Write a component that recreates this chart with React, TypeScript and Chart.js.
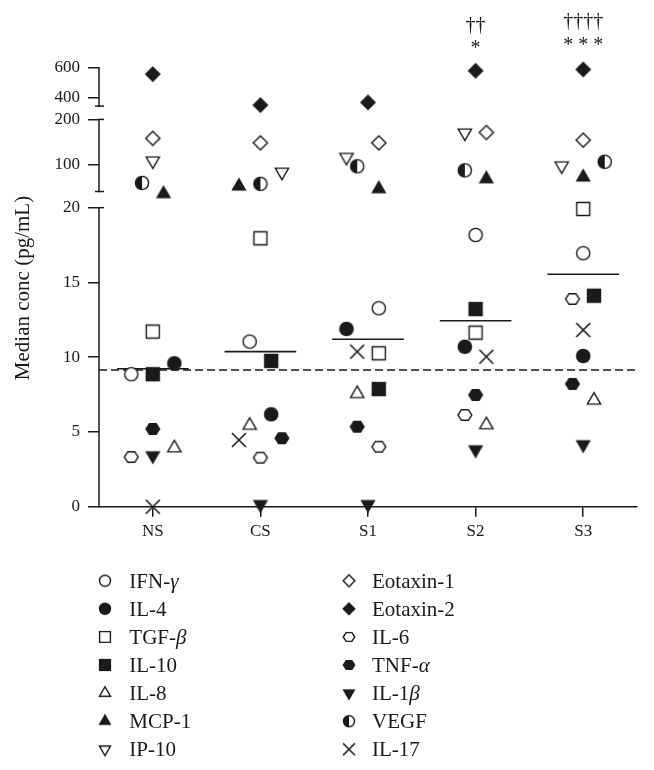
import React, { useEffect, useRef } from 'react';
import { Chart, registerables } from 'chart.js';

Chart.register(...registerables);

const FONT = '"Liberation Serif", "Times New Roman", serif';
const INK = '#1a1a1a';

// ---------- data ----------
const CATEGORIES = ['NS', 'CS', 'S1', 'S2', 'S3'];
const Y_TICK_VALUES = [0, 5, 10, 15, 20, 100, 200, 400, 600];

const IFN_GAMMA = [8.86, 11.04, 13.27, 18.17, 16.95];
const IL_4 = [9.59, 6.18, 11.89, 10.7, 10.08];
const TGF_BETA = [11.71, 17.95, 10.26, 11.64, 19.91];
const IL_10 = [8.86, 9.75, 7.87, 13.22, 14.11];
const IL_8 = [3.93, 5.44, 7.56, 5.48, 7.12];
const MCP_1 = [35, 52, 46, 68, 72];
const IP_10 = [108, 83, 116, 170, 97];
const EOTAXIN_1 = [158, 148, 148, 171, 154];
const EOTAXIN_2 = [557, 347, 365, 580, 589];
const IL_6 = [3.32, 3.28, 4.01, 6.13, 13.89];
const TNF_ALPHA = [5.2, 4.58, 5.35, 7.47, 8.21];
const IL_1BETA = [3.41, 0.15, 0.15, 3.81, 4.15];
const VEGF = [59, 57, 96, 87, 106];
const IL_17 = [0, 4.46, 10.37, 10.03, 11.82];

const MEDIANS = [9.23, 10.37, 11.2, 12.44, 15.55];
const REFERENCE_LEVEL = 9.14;

// horizontal scatter offsets (in category widths)
const IFN_GAMMA_JITTER = [-0.2, -0.1, 0.1, 0, 0];
const IL_4_JITTER = [0.2, 0.1, -0.2, -0.1, 0];
const TGF_BETA_JITTER = [0, 0, 0.1, 0, 0];
const IL_10_JITTER = [0, 0.1, 0.1, 0, 0.1];
const IL_8_JITTER = [0.2, -0.1, -0.1, 0.1, 0.1];
const MCP_1_JITTER = [0.1, -0.2, 0.1, 0.1, 0];
const IP_10_JITTER = [0, 0.2, -0.2, -0.1, -0.2];
const EOTAXIN_1_JITTER = [0, 0, 0.1, 0.1, 0];
const EOTAXIN_2_JITTER = [0, 0, 0, 0, 0];
const IL_6_JITTER = [-0.2, 0, 0.1, -0.1, -0.1];
const TNF_ALPHA_JITTER = [0, 0.2, -0.1, 0, -0.1];
const IL_1BETA_JITTER = [0, 0, 0, 0, 0];
const VEGF_JITTER = [-0.1, 0, -0.1, -0.1, 0.2];
const IL_17_JITTER = [0, -0.2, -0.1, 0.1, 0];

const ANNOTATIONS = [
  { category: 3, text: '\u2020\u2020', level: 31.79 },
  { category: 3, text: '*', level: 30.25 },
  { category: 4, text: '\u2020\u2020\u2020\u2020', level: 32.08 },
  { category: 4, text: '* * *', level: 30.47 },
];

// ---------- broken axis ----------
const AXIS_SEGMENTS = [
  { lo: 0, hi: 20, start: 0, span: 20 },
  { lo: 40, hi: 200, start: 21.08, span: 4.82 },
  { lo: 340, hi: 600, start: 26.79, span: 2.56 },
];
const Y_AXIS_MAX = 32.08;

function toU(v: number): number {
  const seg = v <= 30 ? AXIS_SEGMENTS[0] : v <= 270 ? AXIS_SEGMENTS[1] : AXIS_SEGMENTS[2];
  return seg.start + ((v - seg.lo) / (seg.hi - seg.lo)) * seg.span;
}

// ---------- markers ----------
type MarkerKind =
  | 'circleOpen' | 'circleFilled' | 'squareOpen' | 'squareFilled'
  | 'triUpOpen' | 'triUpFilled' | 'triDownOpen' | 'triDownFilled'
  | 'diamondOpen' | 'diamondFilled' | 'hexOpen' | 'hexFilled'
  | 'halfCircle' | 'cross';

function makeMarker(kind: MarkerKind, s: number): HTMLCanvasElement {
  const c = document.createElement('canvas');
  c.width = 24;
  c.height = 24;
  const ctx = c.getContext('2d')!;
  ctx.translate(12, 12);
  ctx.strokeStyle = INK;
  ctx.fillStyle = INK;
  ctx.lineWidth = 1.4;
  ctx.lineJoin = 'miter';
  const open = kind.endsWith('Open');
  const inset = open ? 0.7 : 0;
  const finish = () => {
    if (open) {
      ctx.fillStyle = '#ffffff';
      ctx.fill();
      ctx.stroke();
    } else {
      ctx.fill();
    }
  };
  ctx.beginPath();
  if (kind === 'circleOpen' || kind === 'circleFilled') {
    ctx.arc(0, 0, 7.3 * s - inset, 0, Math.PI * 2);
    finish();
  } else if (kind === 'squareOpen' || kind === 'squareFilled') {
    const h = 7.2 * s - inset;
    ctx.rect(-h, -h, 2 * h, 2 * h);
    finish();
  } else if (kind.startsWith('triUp') || kind.startsWith('triDown')) {
    const r = 8.8 * s - inset * 1.6;
    const dir = kind.startsWith('triUp') ? -1 : 1;
    ctx.moveTo(0, dir * r);
    ctx.lineTo(r * 0.866, -dir * r * 0.5);
    ctx.lineTo(-r * 0.866, -dir * r * 0.5);
    ctx.closePath();
    finish();
  } else if (kind === 'diamondOpen' || kind === 'diamondFilled') {
    const d = 8 * s - inset * 1.3;
    ctx.moveTo(0, -d);
    ctx.lineTo(d, 0);
    ctx.lineTo(0, d);
    ctx.lineTo(-d, 0);
    ctx.closePath();
    finish();
  } else if (kind === 'hexOpen' || kind === 'hexFilled') {
    const w = 7.6 * s - inset;
    const h = 6 * s - inset;
    ctx.moveTo(-w, 0);
    ctx.lineTo(-w / 2, -h);
    ctx.lineTo(w / 2, -h);
    ctx.lineTo(w, 0);
    ctx.lineTo(w / 2, h);
    ctx.lineTo(-w / 2, h);
    ctx.closePath();
    finish();
  } else if (kind === 'halfCircle') {
    const r = 7.3 * s - 0.7;
    ctx.arc(0, 0, r, 0, Math.PI * 2);
    ctx.fillStyle = '#ffffff';
    ctx.fill();
    ctx.beginPath();
    ctx.fillStyle = INK;
    ctx.arc(0, 0, r, Math.PI / 2, (3 * Math.PI) / 2);
    ctx.closePath();
    ctx.fill();
    ctx.beginPath();
    ctx.arc(0, 0, r, 0, Math.PI * 2);
    ctx.stroke();
  } else if (kind === 'cross') {
    const d = 7 * s;
    ctx.lineWidth = 1.6;
    ctx.moveTo(-d, -d);
    ctx.lineTo(d, d);
    ctx.moveTo(-d, d);
    ctx.lineTo(d, -d);
    ctx.stroke();
  }
  return c;
}

interface SeriesDef {
  label: string;
  greek?: string;
  marker: MarkerKind;
  values: number[];
  jitter: number[];
}

const SERIES: SeriesDef[] = [
  { label: 'IFN-', greek: '\u03b3', marker: 'circleOpen', values: IFN_GAMMA, jitter: IFN_GAMMA_JITTER },
  { label: 'IL-4', marker: 'circleFilled', values: IL_4, jitter: IL_4_JITTER },
  { label: 'TGF-', greek: '\u03b2', marker: 'squareOpen', values: TGF_BETA, jitter: TGF_BETA_JITTER },
  { label: 'IL-10', marker: 'squareFilled', values: IL_10, jitter: IL_10_JITTER },
  { label: 'IL-8', marker: 'triUpOpen', values: IL_8, jitter: IL_8_JITTER },
  { label: 'MCP-1', marker: 'triUpFilled', values: MCP_1, jitter: MCP_1_JITTER },
  { label: 'IP-10', marker: 'triDownOpen', values: IP_10, jitter: IP_10_JITTER },
  { label: 'Eotaxin-1', marker: 'diamondOpen', values: EOTAXIN_1, jitter: EOTAXIN_1_JITTER },
  { label: 'Eotaxin-2', marker: 'diamondFilled', values: EOTAXIN_2, jitter: EOTAXIN_2_JITTER },
  { label: 'IL-6', marker: 'hexOpen', values: IL_6, jitter: IL_6_JITTER },
  { label: 'TNF-', greek: '\u03b1', marker: 'hexFilled', values: TNF_ALPHA, jitter: TNF_ALPHA_JITTER },
  { label: 'IL-1', greek: '\u03b2', marker: 'triDownFilled', values: IL_1BETA, jitter: IL_1BETA_JITTER },
  { label: 'VEGF', marker: 'halfCircle', values: VEGF, jitter: VEGF_JITTER },
  { label: 'IL-17', marker: 'cross', values: IL_17, jitter: IL_17_JITTER },
];

const Y_TITLE = 'Median conc (pg/mL)';

export default function App() {
  const canvasRef = useRef<HTMLCanvasElement>(null);

  useEffect(() => {
    const canvas = canvasRef.current;
    if (!canvas) return;

    const plotMarkers = SERIES.map((s) => makeMarker(s.marker, 1));
    const legendMarkers = SERIES.map((s) => makeMarker(s.marker, 0.85));

    const markerDatasets = SERIES.map((s, si) => ({
      type: 'scatter' as const,
      label: s.label + (s.greek || ''),
      data: s.values.map((v, i) => ({ x: i + s.jitter[i], y: toU(v) })),
      pointStyle: plotMarkers[si],
      pointRadius: 8,
      showLine: false,
      clip: false,
      order: 1,
    }));

    const medianData: { x: number; y: number | null }[] = [];
    MEDIANS.forEach((m, i) => {
      medianData.push({ x: i - 0.333, y: toU(m) });
      medianData.push({ x: i + 0.333, y: toU(m) });
      medianData.push({ x: i + 0.5, y: null });
    });

    const decor = {
      id: 'decor',
      beforeDatasetsDraw(chart: any) {
        const { ctx, chartArea, scales } = chart;
        const y = scales.y;
        const x0 = chartArea.left;
        ctx.save();
        ctx.strokeStyle = INK;
        ctx.lineWidth = 1.5;
        AXIS_SEGMENTS.forEach((seg, i) => {
          const top = y.getPixelForValue(seg.start + seg.span);
          const bottom = y.getPixelForValue(seg.start);
          ctx.beginPath();
          ctx.moveTo(x0, top - 0.75);
          ctx.lineTo(x0, bottom + 0.75);
          ctx.stroke();
          if (i > 0) {
            ctx.beginPath();
            ctx.moveTo(x0 - 4, bottom);
            ctx.lineTo(x0 + 5, bottom);
            ctx.stroke();
          }
          if (i < AXIS_SEGMENTS.length - 1) {
            ctx.beginPath();
            ctx.moveTo(x0, top);
            ctx.lineTo(x0 + 5, top);
            ctx.stroke();
          }
        });
        ctx.restore();
      },
      afterDraw(chart: any) {
        const { ctx, scales } = chart;
        const xs = scales.x;
        const ys = scales.y;
        ctx.save();
        ctx.fillStyle = INK;

        // significance marks
        ctx.font = `20px ${FONT}`;
        ctx.textAlign = 'center';
        ctx.textBaseline = 'alphabetic';
        ANNOTATIONS.forEach((a) => {
          ctx.fillText(a.text, xs.getPixelForValue(a.category), ys.getPixelForValue(a.level));
        });

        // y-axis title
        ctx.save();
        ctx.translate(21.3, 280);
        ctx.rotate(-Math.PI / 2);
        ctx.font = `21px ${FONT}`;
        ctx.textAlign = 'center';
        ctx.textBaseline = 'alphabetic';
        ctx.fillText(Y_TITLE, 0, 0);
        ctx.restore();

        // legend (two columns)
        ctx.textAlign = 'left';
        ctx.textBaseline = 'alphabetic';
        SERIES.forEach((s, i) => {
          const col = i < 7 ? 0 : 1;
          const row = i % 7;
          const cy = 572.7 + row * 28.1;
          const mx = col === 0 ? 97 : 341;
          const tx = col === 0 ? 121.3 : 364;
          const img = legendMarkers[i];
          ctx.drawImage(img, mx - img.width / 2, cy - img.height / 2);
          ctx.font = `21px ${FONT}`;
          ctx.fillText(s.label, tx, cy + 7);
          if (s.greek) {
            const w = ctx.measureText(s.label).width;
            ctx.font = `italic 21px ${FONT}`;
            ctx.fillText(s.greek, tx + w, cy + 7);
          }
        });
        ctx.restore();
      },
    };

    const chart = new Chart(canvas, {
      type: 'scatter',
      data: {
        datasets: [
          ...markerDatasets,
          {
            type: 'scatter' as const,
            label: 'median',
            data: medianData,
            showLine: true,
            spanGaps: false,
            pointRadius: 0,
            borderColor: INK,
            borderWidth: 1.6,
            clip: false,
            order: 10,
          },
          {
            type: 'scatter' as const,
            label: 'reference',
            data: [
              { x: -0.5, y: toU(REFERENCE_LEVEL) },
              { x: 4.5, y: toU(REFERENCE_LEVEL) },
            ],
            showLine: true,
            pointRadius: 0,
            borderColor: INK,
            borderWidth: 1.4,
            borderDash: [8, 4],
            order: 11,
          },
        ] as any,
      },
      options: {
        responsive: false,
        animation: false,
        devicePixelRatio: 1,
        layout: { padding: { top: 19, right: 6, bottom: 213.3, left: 0 } },
        plugins: {
          legend: { display: false },
          tooltip: { enabled: false },
        },
        scales: {
          x: {
            type: 'linear',
            min: -0.5,
            max: 4.5,
            afterBuildTicks: (scale: any) => {
              scale.ticks = CATEGORIES.map((_, i) => ({ value: i }));
            },
            afterFit: (scale: any) => {
              scale.height = 40;
            },
            ticks: {
              autoSkip: false,
              maxRotation: 0,
              padding: 5,
              color: INK,
              font: { family: FONT, size: 17 },
              callback: (_v: any, i: number) => CATEGORIES[i],
            },
            grid: {
              display: true,
              drawOnChartArea: false,
              drawTicks: true,
              tickLength: 10,
              lineWidth: 1.5,
              color: INK,
            },
            border: { display: true, color: INK, width: 1.5 },
          },
          y: {
            type: 'linear',
            min: 0,
            max: Y_AXIS_MAX,
            afterBuildTicks: (scale: any) => {
              scale.ticks = Y_TICK_VALUES.map((v) => ({ value: toU(v) }));
            },
            afterFit: (scale: any) => {
              scale.width = 91;
            },
            ticks: {
              autoSkip: false,
              padding: 8,
              color: INK,
              font: { family: FONT, size: 17 },
              callback: (_v: any, i: number) => String(Y_TICK_VALUES[i]),
            },
            grid: {
              display: true,
              drawOnChartArea: false,
              drawTicks: true,
              tickLength: 11,
              lineWidth: 1.5,
              color: INK,
            },
            border: { display: false },
          },
        },
      },
      plugins: [decor],
    } as any);

    return () => chart.destroy();
  }, []);

  return (
    <div style={{ width: 638, height: 752 }}>
      <canvas ref={canvasRef} width={638} height={752} style={{ display: 'block' }} />
    </div>
  );
}
